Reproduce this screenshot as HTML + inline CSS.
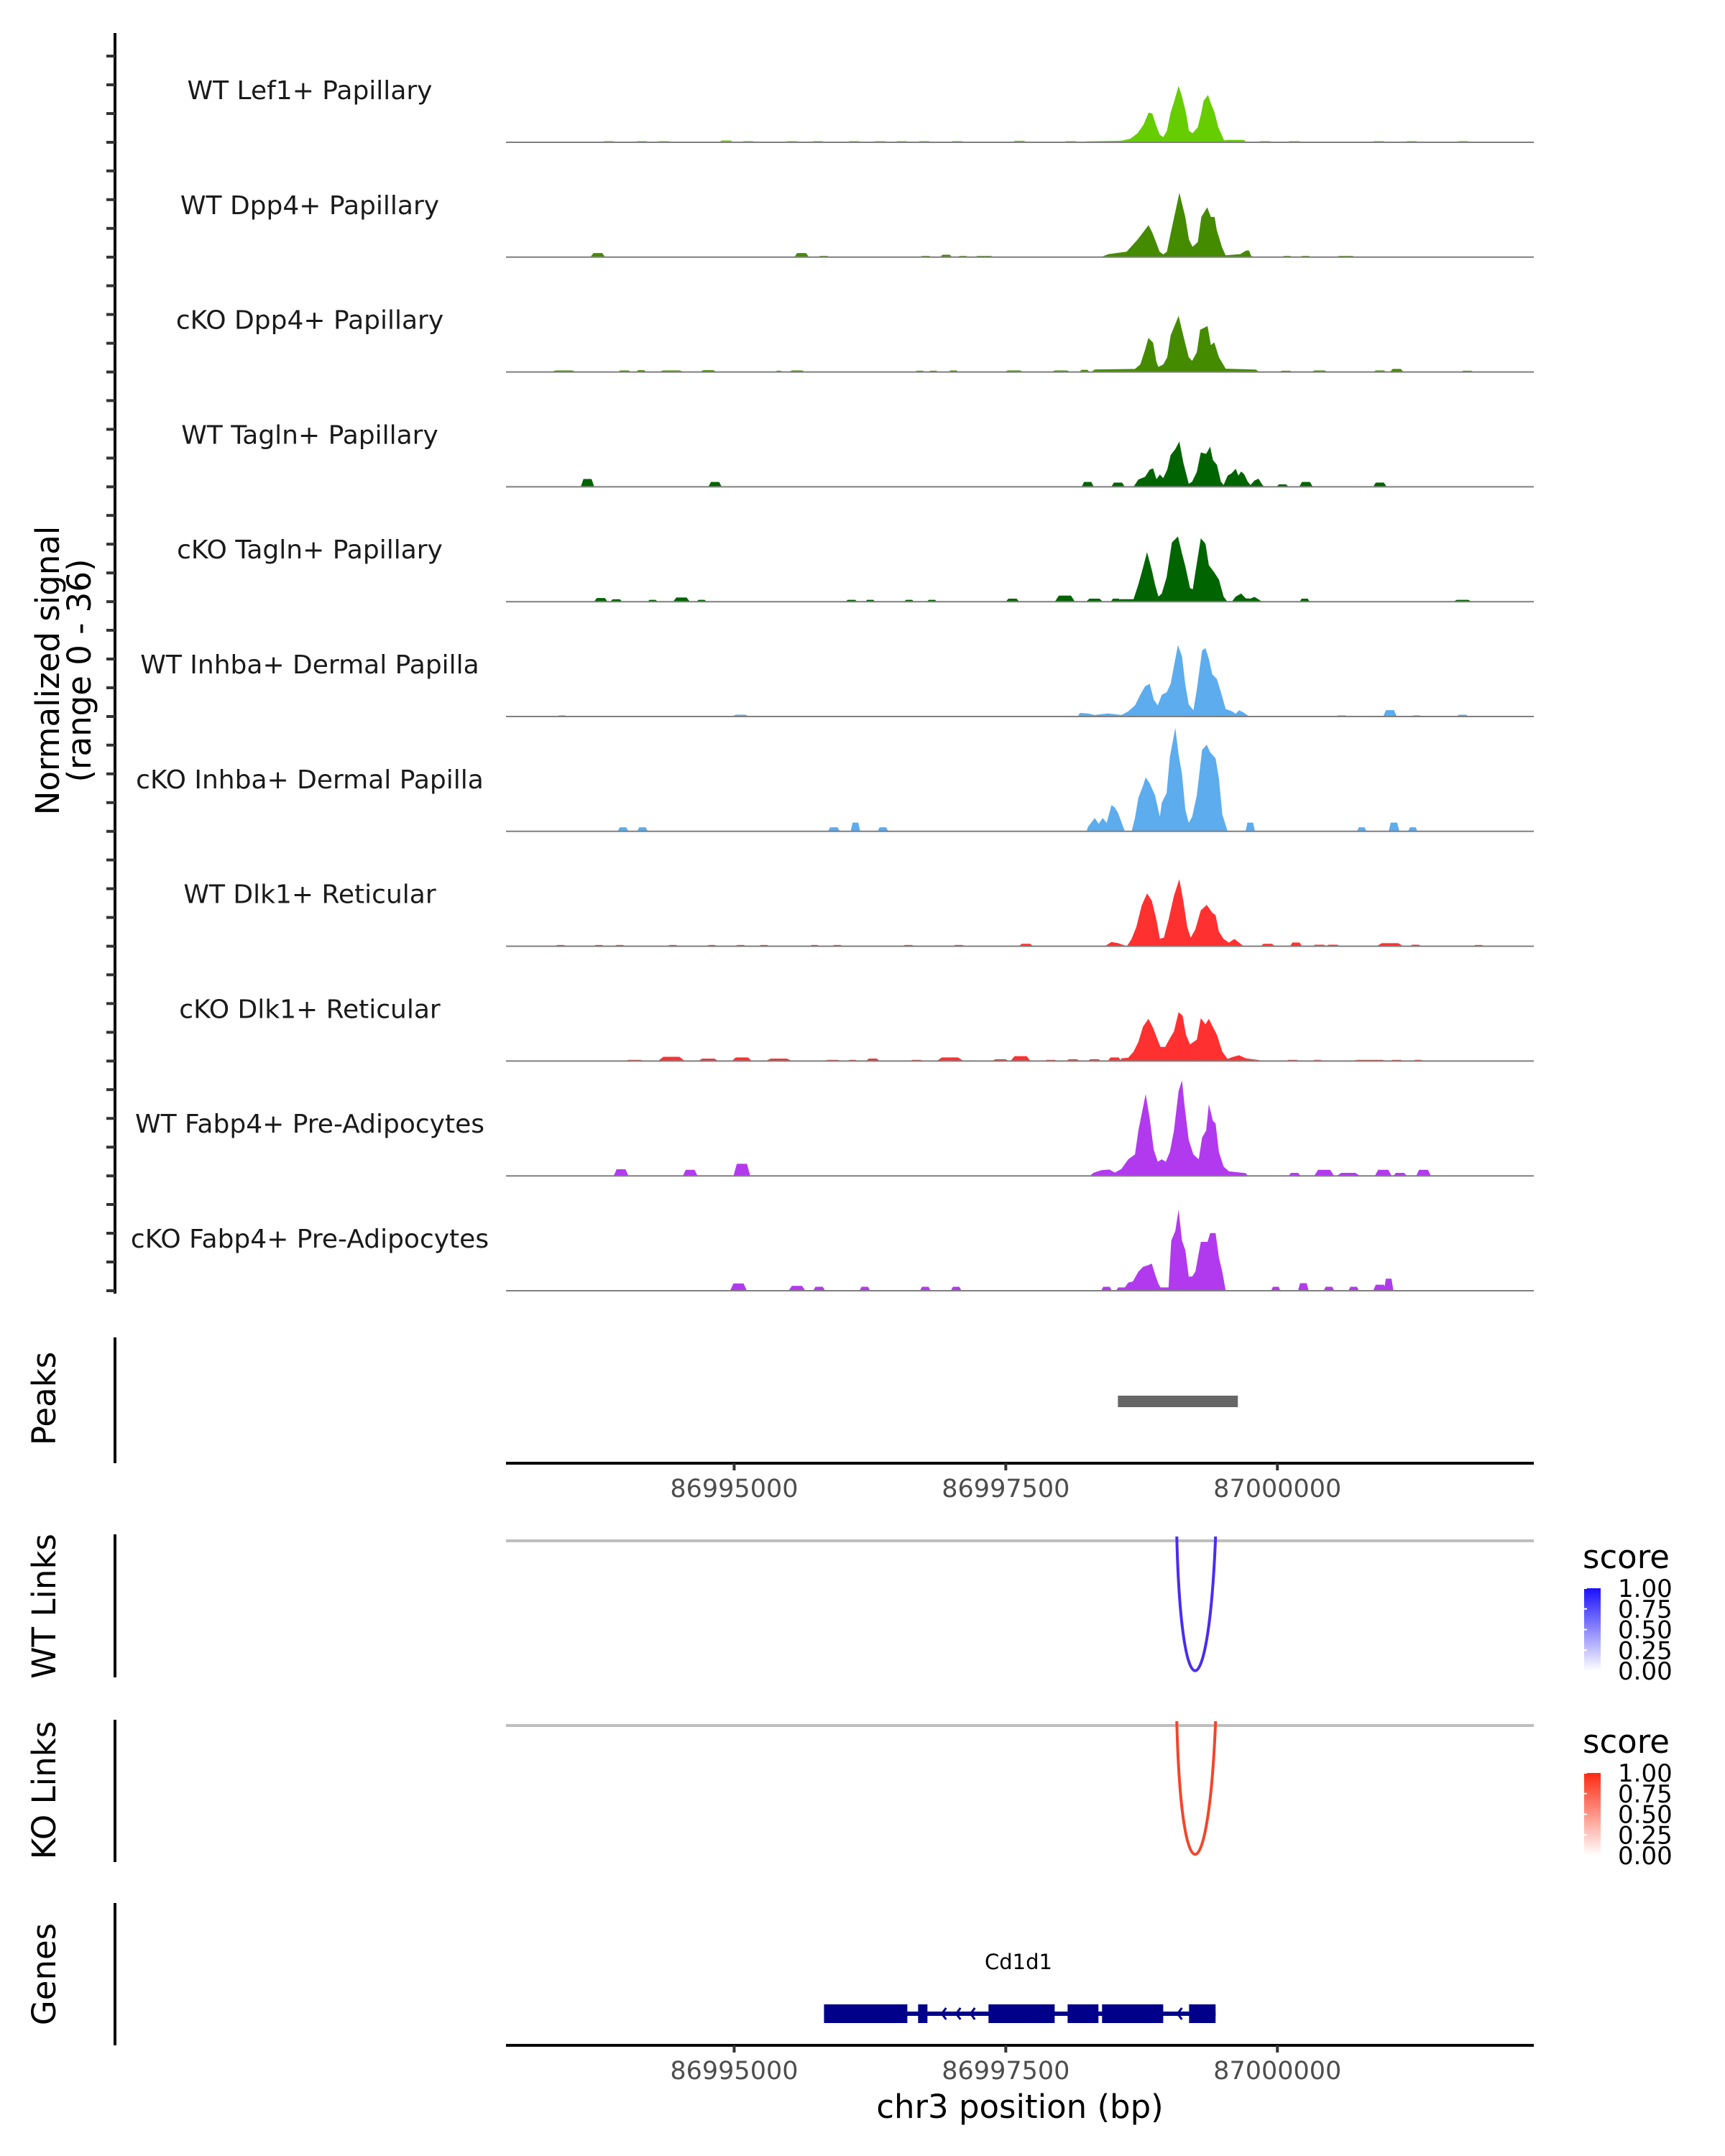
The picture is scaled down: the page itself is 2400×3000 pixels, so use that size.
<!DOCTYPE html>
<html><head><meta charset="utf-8">
<style>
html,body{margin:0;padding:0;background:#fff;}
svg{display:block;}
text{font-family:"DejaVu Sans","Liberation Sans",sans-serif;}
</style></head>
<body>
<svg id="chart" xmlns="http://www.w3.org/2000/svg" width="2400" height="3000" viewBox="0 0 2400 3000">
<rect width="2400" height="3000" fill="#fff"/>
<defs>
<linearGradient id="gBlue" x1="0" y1="1" x2="0" y2="0"><stop offset="0" stop-color="#ffffff"/><stop offset="1" stop-color="#1a10ff"/></linearGradient>
<linearGradient id="gRed" x1="0" y1="1" x2="0" y2="0"><stop offset="0" stop-color="#ffffff"/><stop offset="1" stop-color="#ff2a10"/></linearGradient>
</defs>
<g id="tracks"></g>
<g id="static">
  <line x1="160" y1="46" x2="160" y2="1800" stroke="#000" stroke-width="4"/>
  <text transform="translate(82,933) rotate(-90)" text-anchor="middle" font-size="45" fill="#000">Normalized signal</text>
  <text transform="translate(126,933) rotate(-90)" text-anchor="middle" font-size="45" fill="#000">(range 0 - 36)</text>
  <line x1="160" y1="1861" x2="160" y2="2036" stroke="#000" stroke-width="4"/>
  <text transform="translate(77,1946) rotate(-90)" text-anchor="middle" font-size="45" fill="#000">Peaks</text>
  <line x1="160" y1="2135" x2="160" y2="2334" stroke="#000" stroke-width="4"/>
  <text transform="translate(77,2235) rotate(-90)" text-anchor="middle" font-size="45" fill="#000">WT Links</text>
  <line x1="160" y1="2393" x2="160" y2="2591" stroke="#000" stroke-width="4"/>
  <text transform="translate(77,2491) rotate(-90)" text-anchor="middle" font-size="45" fill="#000">KO Links</text>
  <line x1="160" y1="2648" x2="160" y2="2846" stroke="#000" stroke-width="4"/>
  <text transform="translate(77,2747) rotate(-90)" text-anchor="middle" font-size="45" fill="#000">Genes</text>
  <line x1="704" y1="2144" x2="2134" y2="2144" stroke="#bebebe" stroke-width="4"/>
  <line x1="704" y1="2401" x2="2134" y2="2401" stroke="#bebebe" stroke-width="4"/>
  <text x="2202" y="2182" font-size="45" fill="#000">score</text>
  <rect x="2204" y="2210" width="23" height="115" fill="url(#gBlue)"/>
  <text x="2202" y="2439" font-size="45" fill="#000">score</text>
  <rect x="2204" y="2467" width="23" height="115" fill="url(#gRed)"/>
  <text x="1417" y="2740" text-anchor="middle" font-size="29" fill="#000">Cd1d1</text>
  <text x="1419" y="2947" text-anchor="middle" font-size="45" fill="#000">chr3 position (bp)</text>
</g>
<g id="dyn"></g>
</svg>
<script>
// ---- data ----
const trackNames = ["WT Lef1+ Papillary","WT Dpp4+ Papillary","cKO Dpp4+ Papillary","WT Tagln+ Papillary","cKO Tagln+ Papillary","WT Inhba+ Dermal Papilla","cKO Inhba+ Dermal Papilla","WT Dlk1+ Reticular","cKO Dlk1+ Reticular","WT Fabp4+ Pre-Adipocytes","cKO Fabp4+ Pre-Adipocytes"];
const trackColors = ["#66CD00","#458B00","#458B00","#006400","#006400","#5CACEE","#5CACEE","#FF3030","#FF3030","#B23AEE","#B23AEE"];
const xTicks = [86995000, 86997500, 87000000];
const xTickLabels = ["86995000","86997500","87000000"];
const xDomain = [86992900, 87002360];
const yMax = 36;
const coreShift = -60;

const core1 = [[86998233,0],[86998301,0.3],[86998604,0.5],[86998638,0.6],[86998706,1.2],[86998773,3.0],[86998827,5.8],[86998874,9.8],[86998908,9.6],[86998942,5.8],[86998976,2.6],[86999009,1.7],[86999043,3.8],[86999077,9.8],[86999111,13.7],[86999151,18.7],[86999178,15.7],[86999219,9.8],[86999246,3.8],[86999279,3.0],[86999327,5.0],[86999360,9.8],[86999380,13.7],[86999421,15.7],[86999448,12.9],[86999482,9.8],[86999516,5.0],[86999570,0.6],[86999597,0.8],[86999752,0.8],[86999772,0]];
const bumps1 = [[86993846,135,0.4],[86994150,135,0.4],[86994352,135,0.4],[86994926,135,0.6],[86995129,135,0.4],[86995534,135,0.4],[86995770,135,0.4],[86996107,135,0.4],[86996343,135,0.4],[86996545,135,0.4],[86996748,135,0.4],[86997052,135,0.4],[86997626,135,0.5],[86998098,135,0.4],[86999887,135,0.4],[87000157,135,0.4],[87000933,135,0.4],[87001237,135,0.4],[87001709,135,0.4]];

const core2 = [[86998436,0],[86998503,1.0],[86998672,1.8],[86998773,5.8],[86998874,10.6],[86998908,8.2],[86998942,5.0],[86998976,1.8],[86999009,0.9],[86999043,1.8],[86999077,7.8],[86999158,21.3],[86999212,13.3],[86999246,5.8],[86999279,3.4],[86999327,5.0],[86999360,13.3],[86999414,16.5],[86999448,13.3],[86999482,13.3],[86999502,9.0],[86999549,3.4],[86999583,0.6],[86999718,1.0],[86999772,2.2],[86999799,2.2],[86999819,0.4],[86999853,0]];
const bumps2 = [[86993745,135,1.35],[86995621,135,1.35],[86995824,110,0.4],[86996762,110,0.4],[86996951,110,0.8],[86997106,100,0.4],[86997302,200,0.4],[87000089,100,0.4],[87000258,100,0.4],[87000629,200,0.4]];

const core3 = [[86998347,0],[86998378,0.8],[86998749,1.0],[86998798,2.5],[86998842,7.3],[86998873,11.3],[86998916,9.7],[86998947,3.3],[86998965,1.7],[86999009,2.5],[86999046,4.9],[86999077,12.1],[86999151,18.6],[86999194,12.1],[86999244,4.9],[86999275,3.7],[86999318,6.5],[86999349,14.0],[86999417,15.2],[86999448,8.9],[86999479,9.8],[86999522,4.9],[86999584,1.1],[86999862,0.8],[86999893,0]];
const bumps3 = [[86993433,247,0.5],[86993990,124,0.5],[86994144,93,0.6],[86994422,247,0.5],[86994762,155,0.6],[86995411,62,0.4],[86995578,155,0.5],[86996709,93,0.4],[86996833,93,0.4],[86997018,93,0.5],[86997575,185,0.5],[86998007,185,0.5],[86998224,93,0.7],[87000078,124,0.4],[87000387,155,0.5],[87000943,124,0.5],[87001098,124,1.0],[87001747,124,0.4]];

const core4 = [[86998736,0],[86998780,2.4],[86998842,3.3],[86998885,5.7],[86998916,6.1],[86998947,2.5],[86998978,4.1],[86999009,2.9],[86999046,5.7],[86999077,10.5],[86999120,12.5],[86999157,15.0],[86999194,8.1],[86999244,1.0],[86999275,1.7],[86999318,4.9],[86999355,11.4],[86999404,10.9],[86999441,13.3],[86999466,8.9],[86999503,7.3],[86999540,1.7],[86999565,0.6],[86999602,3.7],[86999639,4.5],[86999676,6.0],[86999701,3.7],[86999726,5.1],[86999756,4.1],[86999787,1.7],[86999812,0.6],[86999849,2.1],[86999886,2.7],[86999923,0.6],[86999942,0]];
const bumps4 = [[86993650,124,2.6],[86994824,124,1.6],[86998254,111,1.6],[86998533,124,1.4],[87000047,111,0.8],[87000263,124,1.6],[87000943,124,1.4]];

const core5 = [[86998594,0],[86998613,0.8],[86998736,0.8],[86998780,5.7],[86998823,11.3],[86998860,16.4],[86998904,10.5],[86998934,5.7],[86998965,1.7],[86998996,2.7],[86999040,8.1],[86999089,19.6],[86999145,21.6],[86999182,16.0],[86999213,11.7],[86999256,4.5],[86999281,4.1],[86999305,9.7],[86999355,21.0],[86999398,19.2],[86999429,12.1],[86999479,9.7],[86999522,7.3],[86999565,1.7],[86999596,0.2],[86999645,0.2],[86999676,1.7],[86999726,2.7],[86999769,1.1],[86999812,1.0],[86999849,1.6],[86999911,0.2],[86999923,0]];
const bumps5 = [[86993773,124,1.2],[86993915,111,0.8],[86994249,93,0.6],[86994515,155,1.4],[86994700,93,0.6],[86996079,111,0.6],[86996252,93,0.6],[86996610,93,0.6],[86996820,93,0.6],[86997562,124,1.0],[86998044,185,2.0],[86998316,155,1.0],[86998514,93,1.0],[87000251,93,1.0],[87001704,173,0.6]];

const core6 = [[86998224,0],[86998242,1.2],[86998316,1.0],[86998378,0.5],[86998502,1.0],[86998625,0.5],[86998687,1.7],[86998749,3.7],[86998798,7.2],[86998842,10.0],[86998885,10.8],[86998922,5.6],[86998959,3.7],[86998996,7.2],[86999040,8.0],[86999077,10.8],[86999108,16.7],[86999145,23.7],[86999182,19.9],[86999213,10.4],[86999244,4.0],[86999287,2.1],[86999318,8.8],[86999367,21.9],[86999398,22.7],[86999429,19.1],[86999460,14.0],[86999503,12.4],[86999540,8.0],[86999584,2.5],[86999645,1.7],[86999676,0.9],[86999707,2.1],[86999750,1.3],[86999800,0]];
const bumps6 = [[86993415,93,0.4],[86995059,155,0.6],[87000591,111,0.4],[87001036,124,2.1],[87001283,93,0.4],[87001704,111,0.6]];

const core7 = [[86998304,0],[86998316,1.4],[86998378,4.4],[86998415,2.5],[86998452,4.4],[86998489,2.8],[86998533,8.7],[86998564,7.9],[86998594,6.0],[86998656,0],[86998718,0],[86998749,4.4],[86998780,11.1],[86998823,15.1],[86998848,17.9],[86998885,15.9],[86998934,11.9],[86998978,4.8],[86998996,9.5],[86999040,12.7],[86999070,24.6],[86999120,34.3],[86999151,25.4],[86999182,19.0],[86999213,7.1],[86999244,2.8],[86999275,4.8],[86999318,11.9],[86999367,27.0],[86999410,28.7],[86999441,26.2],[86999491,24.2],[86999522,17.5],[86999553,5.6],[86999602,0]];
const bumps7 = [[86993977,99,1.35],[86994156,99,1.35],[86995918,111,1.35],[86996116,87,2.9],[86996369,99,1.35],[86999750,87,2.9],[87000776,87,1.35],[87001073,99,2.9],[87001246,87,1.35]];

const core8 = [[86998471,0],[86998533,1.4],[86998594,1.0],[86998675,0],[86998718,2.4],[86998761,6.3],[86998811,13.5],[86998860,17.5],[86998904,15.1],[86998947,8.7],[86998978,2.5],[86999015,2.8],[86999058,8.7],[86999108,16.7],[86999157,22.2],[86999194,15.1],[86999231,6.3],[86999262,2.8],[86999305,5.6],[86999355,11.9],[86999410,13.7],[86999460,11.1],[86999491,10.3],[86999522,4.8],[86999565,2.4],[86999614,1.2],[86999664,2.4],[86999707,1.2],[86999750,0]];
const bumps8 = [[86993402,100,0.4],[86993755,100,0.4],[86993946,100,0.4],[86994435,100,0.4],[86994793,90,0.4],[86995059,100,0.4],[86995275,100,0.4],[86995739,90,0.4],[86995949,100,0.4],[86996604,110,0.4],[86997068,110,0.4],[86997686,130,0.8],[86999911,130,0.8],[87000171,110,1.2],[87000387,130,0.5],[87000511,130,0.5],[87001036,250,1.0],[87001271,100,0.5],[87001852,100,0.4]];

const core9 = [[86998613,0],[86998625,0.9],[86998687,1.1],[86998736,3.1],[86998780,6.3],[86998823,11.4],[86998873,14.0],[86998916,11.0],[86998953,7.5],[86998984,4.7],[86999027,4.7],[86999070,7.5],[86999108,9.8],[86999151,16.2],[86999188,15.0],[86999219,8.7],[86999256,5.5],[86999318,7.1],[86999355,14.2],[86999398,12.2],[86999429,14.0],[86999460,11.7],[86999503,8.7],[86999553,3.1],[86999602,0.7],[86999645,1.3],[86999707,1.9],[86999769,0.9],[86999893,0.3],[86999923,0]];
const bumps9 = [[86994082,185,0.4],[86994422,247,1.4],[86994762,185,0.8],[86995071,185,1.2],[86995411,247,0.8],[86995906,155,0.4],[86996091,93,0.4],[86996276,124,0.8],[86996678,124,0.4],[86996987,247,1.2],[86997451,155,0.6],[86997636,185,1.6],[86997914,124,0.4],[86998118,124,0.6],[86998316,124,0.6],[86998501,124,1.2],[87000140,124,0.4],[87000369,93,0.4],[87000851,370,0.4],[87001098,124,0.4],[87001296,93,0.4]];

const core10 = [[86998335,0],[86998366,1.0],[86998440,1.9],[86998514,2.1],[86998564,1.1],[86998625,2.3],[86998687,5.5],[86998749,7.1],[86998780,15.0],[86998811,20.6],[86998848,27.1],[86998885,19.0],[86998922,8.7],[86998959,4.7],[86998996,5.5],[86999033,4.7],[86999070,7.9],[86999108,15.0],[86999151,28.1],[86999182,31.7],[86999206,23.0],[86999244,11.9],[86999287,7.1],[86999336,5.5],[86999367,12.7],[86999404,15.0],[86999429,23.8],[86999466,18.2],[86999491,17.4],[86999522,7.9],[86999565,3.1],[86999614,1.5],[86999769,0.9],[86999788,0]];
const bumps10 = [[86993959,136,2.2],[86994595,136,2.0],[86995071,155,4.0],[87000158,111,1.0],[87000430,185,2.0],[87000653,216,1.0],[87000974,155,2.0],[87001129,124,1.0],[87001345,136,2.0]];

const core11 = [[86998576,0],[86998594,1.1],[86998656,1.1],[86998687,2.7],[86998730,3.1],[86998780,6.3],[86998823,7.9],[86998873,8.5],[86998904,9.0],[86998934,5.5],[86998965,2.3],[86998984,1.1],[86999058,1.1],[86999083,16.6],[86999120,19.8],[86999151,26.9],[86999182,16.6],[86999213,13.4],[86999244,4.7],[86999275,4.7],[86999305,6.3],[86999355,16.2],[86999417,16.2],[86999441,19.1],[86999491,19.1],[86999522,11.0],[86999553,6.3],[86999584,0]];
const bumps11 = [[86995040,155,2.4],[86995578,155,1.6],[86995782,111,1.3],[86996202,99,1.3],[86996759,99,1.3],[86997043,99,1.3],[86998427,99,1.3],[86999985,87,1.3],[87000239,99,2.5],[87000474,99,1.3],[87000702,99,1.3],[87000943,124,2.0],[87001024,87,4.0]];

const coreData = [core1,core2,core3,core4,core5,core6,core7,core8,core9,core10,core11];
const bumpData = [bumps1,bumps2,bumps3,bumps4,bumps5,bumps6,bumps7,bumps8,bumps9,bumps10,bumps11];

const peakRegions = [[86998532, 86999636]];
const wtLinks = [[86999074, 86999431, 0.85]];
const koLinks = [[86999074, 86999431, 0.85]];
const geneExons = [[86995827,86996594],[86996693,86996779],[86997341,86997950],[86998069,86998353],[86998386,86998949],[86999187,86999431]];
const geneSpan = [86995827, 86999431];
const scoreTicks = ["1.00","0.75","0.50","0.25","0.00"];

// ---- scales ----
const NS = "http://www.w3.org/2000/svg";
const plotL = 704, plotR = 2134;
function xs(bp){ return plotL + (bp - xDomain[0]) / (xDomain[1] - xDomain[0]) * (plotR - plotL); }
const trackTop0 = 198, trackStep = 159.8, unitPx = 4.2;
function base(i){ return trackTop0 + i * trackStep; }
function ys(i, v){ return base(i) - v * unitPx; }
function mk(tag, attrs, parent){ const e = document.createElementNS(NS, tag); for (const k in attrs) e.setAttribute(k, attrs[k]); parent.appendChild(e); return e; }

const tracks = document.getElementById('tracks');
const dyn = document.getElementById('dyn');

for (let i = 0; i < trackNames.length; i++) {
  for (let k = 0; k < 4; k++) {
    const yy = base(i) - k * 40;
    const t = mk('line', {x1:148, x2:160, y1:yy, y2:yy, stroke:'#333', 'stroke-width':4}, dyn);
    
    
  }
}

for (let i = 0; i < trackNames.length; i++) {
  const g = mk('g', {}, tracks);
  
  
  const col = trackColors[i];
  const pts = coreData[i];
  let d = 'M' + xs(pts[0][0] + coreShift).toFixed(1) + ',' + base(i);
  pts.forEach(p => { d += ' L' + xs(p[0] + coreShift).toFixed(1) + ',' + ys(i, p[1]).toFixed(1); });
  d += ' L' + xs(pts[pts.length - 1][0] + coreShift).toFixed(1) + ',' + base(i) + ' Z';
  const area = mk('path', {d: d, fill: col}, g);
  
  
  bumpData[i].forEach(b => {
    const x0 = xs(b[0] - b[1] / 2), x1 = xs(b[0] + b[1] / 2), w = x1 - x0, yt = ys(i, b[2]);
    const bd = 'M' + x0 + ',' + base(i) + ' L' + (x0 + w * 0.2) + ',' + yt + ' L' + (x1 - w * 0.2) + ',' + yt + ' L' + x1 + ',' + base(i) + ' Z';
    const bp = mk('path', {d: bd, fill: col}, g);
    
    
  });
  const bl = mk('line', {x1: plotL, x2: plotR, y1: base(i), y2: base(i), stroke: '#7f7f7f', 'stroke-width': 2}, g);
  
  
  const lab = mk('text', {x: 431, y: base(i) - 60, 'text-anchor': 'middle', 'font-size': 36, fill: '#1a1a1a'}, g);
  
  
  lab.textContent = trackNames[i];
}

peakRegions.forEach(p => {
  const r = mk('rect', {x: xs(p[0]), y: 1942, width: xs(p[1]) - xs(p[0]), height: 16, fill: '#666666'}, dyn);
  
  
});

[2036, 2846].forEach((ay) => {
  const ax = mk('line', {x1: plotL, x2: plotR, y1: ay, y2: ay, stroke: '#000', 'stroke-width': 4}, dyn);
  
  
  xTicks.forEach((t, j) => {
    const tk = mk('line', {x1: xs(t), x2: xs(t), y1: ay, y2: ay + 10, stroke: '#333', 'stroke-width': 4}, dyn);
    
    
    const tl = mk('text', {x: xs(t), y: ay + 47, 'text-anchor': 'middle', 'font-size': 35, fill: '#4d4d4d'}, dyn);
    
    
    tl.textContent = xTickLabels[j];
  });
});

function drawLinks(arr, topY, depth, color) {
  arr.forEach(l => {
    const x0 = xs(l[0]), x1 = xs(l[1]), bottom = topY + depth * l[2] / 0.85;
    const d = 'M' + x0 + ',' + (topY - 6) + ' C' + (x0 + 6) + ',' + (bottom + 60) + ' ' + (x1 - 10) + ',' + (bottom + 60) + ' ' + x1 + ',' + (topY - 6);
    const p = mk('path', {d: d, fill: 'none', stroke: color, 'stroke-width': 4}, dyn);
    
    
  });
}
drawLinks(wtLinks, 2144, 183, '#4a2cf2');
drawLinks(koLinks, 2401, 181, '#f2462a');

[[2210, 'wt'], [2467, 'ko']].forEach(L => {
  scoreTicks.forEach((s, j) => {
    const yy = L[0] + j * 115 / 4;
    const tx = mk('text', {x: 2251, y: yy + 12, 'font-size': 34, fill: '#000'}, dyn);
    
    
    tx.textContent = s;
    const tm = mk('line', {x1: 2204, x2: 2208, y1: yy, y2: yy, stroke: '#fff', 'stroke-width': 2}, dyn);
    
    
  });
});

const gy = 2802;
const intr = mk('line', {x1: xs(geneSpan[0]), x2: xs(geneSpan[1]), y1: gy, y2: gy, stroke: '#00008B', 'stroke-width': 6}, dyn);


geneExons.forEach(e => {
  const r = mk('rect', {x: xs(e[0]), y: gy - 13, width: xs(e[1]) - xs(e[0]), height: 26, fill: '#00008B'}, dyn);
  
  
});
for (let k = 0; k < geneExons.length - 1; k++) {
  const a = xs(geneExons[k][1]), b = xs(geneExons[k + 1][0]);
  if (b - a < 30) continue;
  for (let cx = a + 20; cx < b - 8; cx += 20) {
    const ch = mk('path', {d: 'M' + (cx + 6) + ',' + (gy - 8) + ' L' + cx + ',' + gy + ' L' + (cx + 6) + ',' + (gy + 8), fill: 'none', stroke: '#00008B', 'stroke-width': 3}, dyn);
    
    
  }
}
</script>
</body></html>
